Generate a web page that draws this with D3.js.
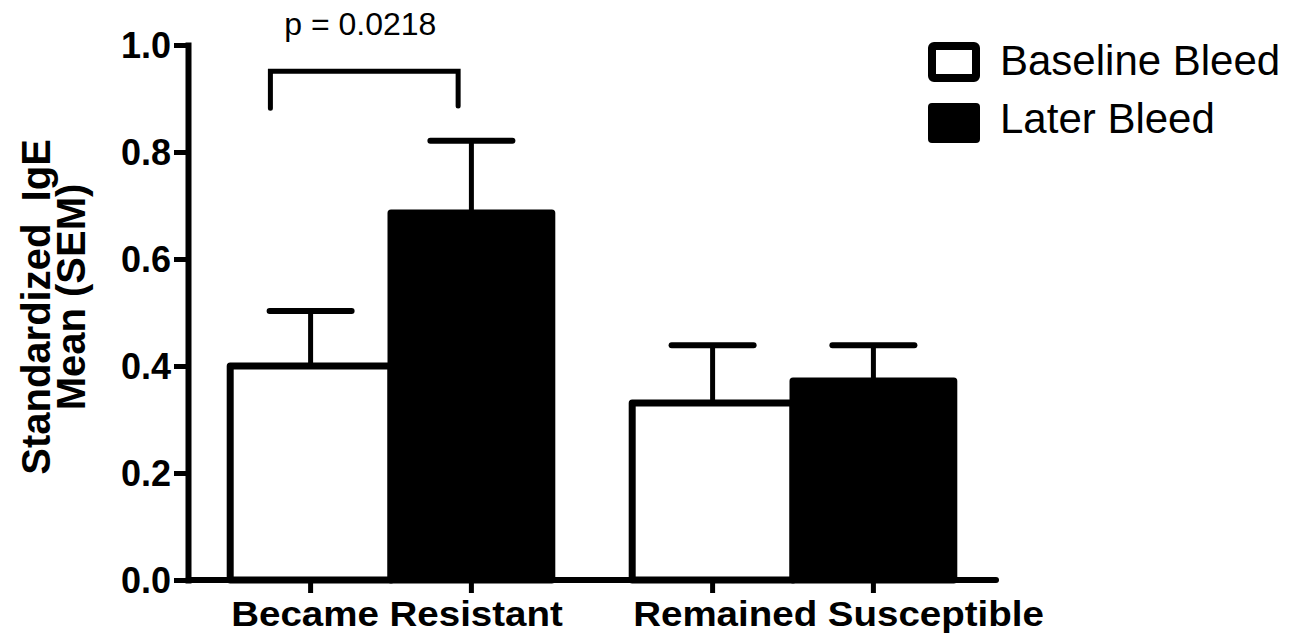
<!DOCTYPE html>
<html>
<head>
<meta charset="utf-8">
<script src="https://cdn.jsdelivr.net/npm/d3@7"></script>
<style>
  html, body { margin: 0; padding: 0; background: #fff; }
  svg { display: block; font-family: "Liberation Sans", Arial, Helvetica, sans-serif; }
</style>
</head>
<body>
<svg id="chart" width="1292" height="634"></svg>
<script>
// ---- data ----
const categories = ["Became Resistant", "Remained Susceptible"];
const seriesNames = ["Baseline Bleed", "Later Bleed"];
const baselineMean = [0.400, 0.331];
const baselineSEM  = [0.103, 0.108];
const laterMean    = [0.686, 0.372];
const laterSEM     = [0.135, 0.067];
const yTicks = [0.0, 0.2, 0.4, 0.6, 0.8, 1.0];
const pLabel = "p = 0.0218";
const yTitleLines = ["Standardized  IgE", "Mean (SEM)"];

const svg = d3.select("#chart");

const y = d3.scaleLinear().domain([0, 1]).range([580, 45]);
const x0 = d3.scaleBand().domain(categories).range([190, 994]).padding(0);
const bw = x0.bandwidth();
const x1 = d3.scaleBand().domain(seriesNames).range([bw * 0.1, bw * 0.9]).padding(0);

const rows = categories.map((c, i) => [
  { cat: c, s: seriesNames[0], v: baselineMean[i], e: baselineSEM[i], fill: "#fff" },
  { cat: c, s: seriesNames[1], v: laterMean[i], e: laterSEM[i], fill: "#000" }
]).flat();

const cxOf = d => x0(d.cat) + x1(d.s) + x1.bandwidth() / 2;

// error bars (upward only, drawn behind bars)
const err = svg.append("g");
rows.forEach(d => {
  const cx = cxOf(d);
  err.append("line")
    .attr("x1", cx).attr("x2", cx)
    .attr("y1", y(d.v)).attr("y2", y(d.v + d.e))
    .attr("stroke", "#000").attr("stroke-width", 5);
  err.append("line")
    .attr("x1", cx - 41).attr("x2", cx + 41)
    .attr("y1", y(d.v + d.e)).attr("y2", y(d.v + d.e))
    .attr("stroke", "#000").attr("stroke-width", 6).attr("stroke-linecap", "round");
});

// bars
svg.append("g").selectAll("rect").data(rows).join("rect")
  .attr("x", d => x0(d.cat) + x1(d.s))
  .attr("y", d => y(d.v))
  .attr("width", x1.bandwidth())
  .attr("height", d => y(0) - y(d.v))
  .attr("fill", d => d.fill)
  .attr("stroke", "#000")
  .attr("stroke-width", 7)
  .attr("stroke-linejoin", "round");

// y axis
const yAxis = svg.append("g")
  .attr("transform", "translate(188,0)")
  .call(d3.axisLeft(y).tickValues(yTicks).tickFormat(d3.format(".1f"))
    .tickSize(14).tickSizeOuter(0).tickPadding(3));
yAxis.select(".domain").attr("stroke-width", 6).attr("stroke-linecap", "square");
yAxis.selectAll(".tick line").attr("stroke-width", 5);
yAxis.selectAll(".tick text")
  .attr("font-size", 36).attr("font-weight", "bold").attr("fill", "#000")
  .attr("font-family", "'Liberation Sans', Arial, sans-serif")
  .attr("dy", "0.36em");

// x axis
svg.append("line")
  .attr("x1", 188).attr("x2", 996)
  .attr("y1", y(0)).attr("y2", y(0))
  .attr("stroke", "#000").attr("stroke-width", 6).attr("stroke-linecap", "round");
rows.forEach(d => {
  const cx = cxOf(d);
  svg.append("line")
    .attr("x1", cx).attr("x2", cx)
    .attr("y1", y(0)).attr("y2", y(0) + 13)
    .attr("stroke", "#000").attr("stroke-width", 5);
});
svg.append("g").selectAll("text").data(categories).join("text")
  .attr("transform", d => `translate(${x0(d) + bw * 0.1 + 1},626) scale(1.1,1)`)
  .attr("text-anchor", "start")
  .attr("font-size", 35).attr("font-weight", "bold")
  .text(d => d);

// y title
const titleCenters = [[50, 307], [85, 297]];
yTitleLines.forEach((t, i) => {
  svg.append("text")
    .attr("transform", `translate(${titleCenters[i][0]},${titleCenters[i][1]}) rotate(-90)`)
    .attr("text-anchor", "middle")
    .attr("font-size", 40).attr("font-weight", "bold")
    .attr("xml:space", "preserve")
    .style("white-space", "pre")
    .text(t);
});

// significance bracket
const g1 = x0(categories[0]);
const bx1 = g1 + bw * 0.2, bx2 = g1 + bw * 0.667;
const by = y(0.951), byLeg1 = y(0.882), byLeg2 = y(0.886);
svg.append("path")
  .attr("d", `M${bx1},${byLeg1} L${bx1},${by} L${bx2},${by} L${bx2},${byLeg2}`)
  .attr("fill", "none").attr("stroke", "#000").attr("stroke-width", 5)
  .attr("stroke-linecap", "round");
svg.append("text")
  .attr("x", (bx1 + bx2) / 2 - 4).attr("y", 35)
  .attr("text-anchor", "middle")
  .attr("font-size", 32)
  .text(pLabel);

// legend
const leg = svg.append("g");
leg.append("rect").attr("x", 932).attr("y", 46).attr("width", 44).attr("height", 32)
  .attr("rx", 2).attr("fill", "#fff").attr("stroke", "#000").attr("stroke-width", 8);
leg.append("rect").attr("x", 928).attr("y", 103).attr("width", 52).attr("height", 40)
  .attr("rx", 4).attr("fill", "#000");
seriesNames.forEach((s, i) => {
  leg.append("text").attr("x", 1000).attr("y", [75, 133][i])
    .attr("font-size", 42).text(s);
});
</script>
</body>
</html>
